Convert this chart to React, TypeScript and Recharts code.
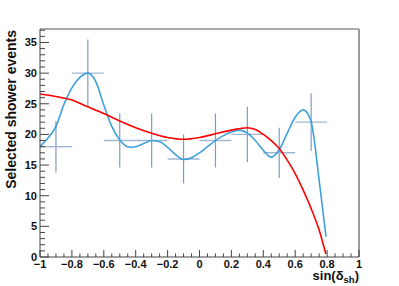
import { ComposedChart, Line, Scatter, ErrorBar, XAxis, YAxis, ReferenceLine } from 'recharts';

// histogram points (bin centres, counts, errors)
const binCenters = [-0.9, -0.7, -0.5, -0.3, -0.1, 0.1, 0.3, 0.5, 0.7];
const counts = [18, 30, 19, 19, 16, 19, 20, 17, 22];
const countErrors = [4.2, 5.5, 4.4, 4.4, 4.0, 4.4, 4.5, 4.1, 4.7];
const binHalfWidth = 0.1;

// blue fit curve
const blueX = [-1, -0.95, -0.9, -0.85, -0.8, -0.75, -0.7, -0.65, -0.6, -0.55, -0.5, -0.45, -0.42, -0.4, -0.35, -0.3, -0.25, -0.2, -0.15, -0.1, -0.05, 0, 0.05, 0.1, 0.15, 0.2, 0.25, 0.3, 0.35, 0.4, 0.45, 0.5, 0.55, 0.6, 0.65, 0.7, 0.72, 0.745, 0.77, 0.793];
const blueY = [18.0, 19.4, 21.3, 24.9, 27.6, 29.3, 30.0, 28.6, 24.8, 21.3, 19.1, 18.0, 17.9, 18.0, 18.5, 19.0, 18.8, 17.9, 16.7, 15.9, 16.2, 17.0, 18.0, 19.0, 19.8, 20.4, 20.7, 20.2, 19.0, 17.4, 16.3, 17.5, 20.2, 22.8, 24.0, 22.1, 19.0, 13.6, 8.3, 3.3];

// red fit curve
const redX = [-1, -0.9, -0.8, -0.7, -0.6, -0.5, -0.4, -0.3, -0.2, -0.1, 0, 0.1, 0.2, 0.3, 0.35, 0.4, 0.45, 0.5, 0.55, 0.6, 0.65, 0.7, 0.75, 0.792];
const redY = [26.6, 26.2, 25.6, 24.5, 23.4, 22.2, 21.1, 20.2, 19.5, 19.2, 19.5, 20.1, 20.7, 21.1, 20.8, 20.0, 19.0, 17.7, 15.8, 13.6, 10.9, 7.9, 4.4, 0.5];

const xMajorTicks = [-1, -0.8, -0.6, -0.4, -0.2, 0, 0.2, 0.4, 0.6, 0.8, 1];
const yMajorTicks = [0, 5, 10, 15, 20, 25, 30, 35];
const yMax = 37.2;

const xTicks: number[] = [];
for (let i = 0; i <= 40; i++) xTicks.push(Math.round((-1 + i * 0.05) * 100) / 100);
const yTicks: number[] = [];
for (let i = 0; i <= 37; i++) yTicks.push(i);

const points = binCenters.map((x, i) => ({ x, y: counts[i], ey: countErrors[i], ex: binHalfWidth }));
const blueData = blueX.map((x, i) => ({ x, y: blueY[i] }));
const redData = redX.map((x, i) => ({ x, y: redY[i] }));

const FONT = '"Liberation Sans", Arial, Helvetica, sans-serif';
const AXIS = '#444';

const fmtX = (v: number) => String(parseFloat(v.toFixed(2))).replace('-', '\u2212');

const XTick = (props: any) => {
  const { x, y, payload } = props;
  const v = payload.value;
  const major = xMajorTicks.some((t) => Math.abs(t - v) < 1e-6);
  return (
    <g>
      <line x1={x} x2={x} y1={y} y2={y - (major ? 7 : 3.5)} stroke={AXIS} />
      {major && (
        <text x={x} y={y} dy={10.5} textAnchor="middle" fontFamily={FONT} fontWeight="bold" fontSize={11} fill="#111">
          {fmtX(v)}
        </text>
      )}
    </g>
  );
};

const YTick = (props: any) => {
  const { x, y, payload } = props;
  const v = payload.value;
  const major = yMajorTicks.includes(v);
  return (
    <g>
      <line x1={x} x2={x + (major ? 9 : 5)} y1={y} y2={y} stroke={AXIS} />
      {major && (
        <text x={x - 3} y={y} dy={4} textAnchor="end" fontFamily={FONT} fontWeight="bold" fontSize={11} fill="#111">
          {v}
        </text>
      )}
    </g>
  );
};

const XTitle = () => (
  <text x={359} y={280} textAnchor="end" fontFamily={FONT} fontWeight="bold" fontSize={13} fill="#111">
    sin(δ
    <tspan fontSize={9.5} dy={3}>sh</tspan>
    <tspan dy={-3}>)</tspan>
  </text>
);

const YTitle = () => (
  <text
    x={15.5}
    y={30}
    transform="rotate(-90 15.5 30)"
    textAnchor="end"
    fontFamily={FONT}
    fontWeight="bold"
    fontSize={14}
    fill="#111"
  >
    Selected shower events
  </text>
);

export default function App() {
  return (
    <div style={{ position: 'absolute', left: 0, top: 0, width: 399, height: 286, background: '#fff' }}>
      <ComposedChart width={399} height={286} margin={{ top: 29, right: 40, bottom: 0, left: 0 }}>
        <XAxis
          type="number"
          dataKey="x"
          domain={[-1, 1]}
          ticks={xTicks}
          interval={0}
          tick={<XTick />}
          tickLine={false}
          tickSize={0}
          tickMargin={0}
          height={29}
          axisLine={{ stroke: AXIS }}
          allowDataOverflow
          label={<XTitle />}
        />
        <YAxis
          type="number"
          dataKey="y"
          domain={[0, yMax]}
          ticks={yTicks}
          interval={0}
          tick={<YTick />}
          tickLine={false}
          tickSize={0}
          tickMargin={0}
          width={40}
          axisLine={{ stroke: AXIS }}
          allowDataOverflow
          label={<YTitle />}
        />
        <ReferenceLine y={yMax} stroke="#555" />
        <ReferenceLine x={1} stroke="#999" strokeWidth={2} />
        <Scatter data={points} dataKey="y" shape={() => <g />} isAnimationActive={false}>
          <ErrorBar dataKey="ey" direction="y" width={0} stroke="#7b9cc4" strokeWidth={1.2} isAnimationActive={false} />
          <ErrorBar dataKey="ex" direction="x" width={0} stroke="#9fb7d3" strokeWidth={1.4} isAnimationActive={false} />
        </Scatter>
        <Line data={blueData} dataKey="y" type="monotone" stroke="#3fa0da" strokeWidth={1.6} dot={false} isAnimationActive={false} />
        <Line data={redData} dataKey="y" type="monotone" stroke="#ff0000" strokeWidth={1.6} dot={false} isAnimationActive={false} />
      </ComposedChart>
    </div>
  );
}
